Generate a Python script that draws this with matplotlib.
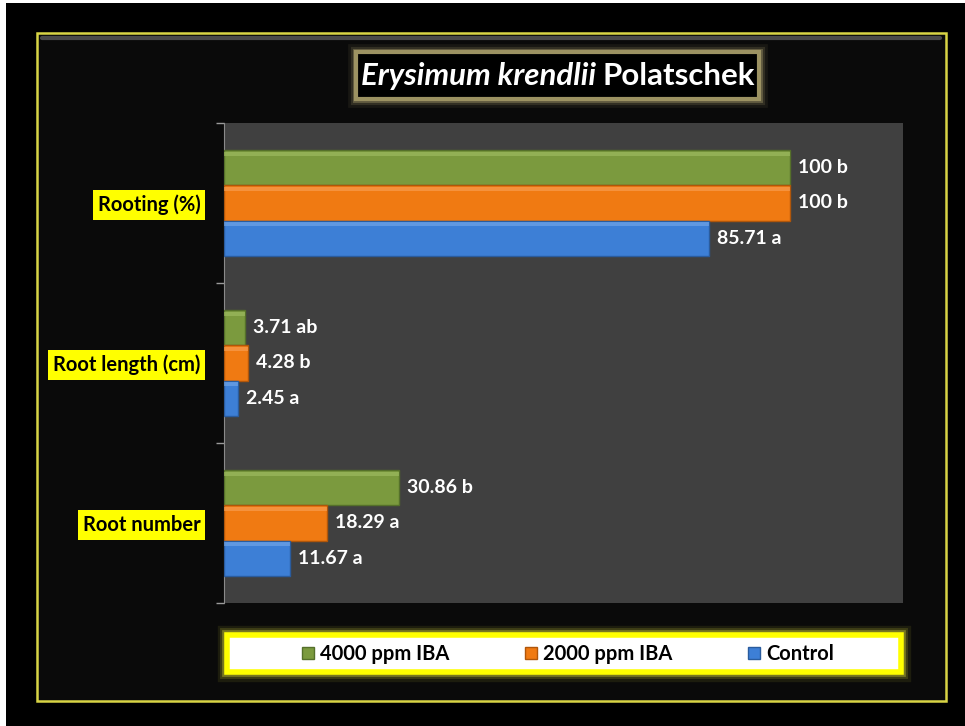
import numpy as np
import matplotlib.pyplot as plt
from matplotlib.patches import Rectangle

plt.rcParams['font.family'] = ['Lato', 'DejaVu Sans']

# categories, bottom to top
categories = ['Root number', 'Root length (cm)', 'Rooting (%)']
series = ['4000 ppm IBA', '2000 ppm IBA', 'Control']
iba4000 = [30.86, 3.71, 100]
iba2000 = [18.29, 4.28, 100]
control = [11.67, 2.45, 85.71]
letters4000 = ['b', 'ab', 'b']
letters2000 = ['a', 'b', 'b']
lettersControl = ['a', 'a', 'a']

colors = ['#7B9A3E', '#F07A12', '#3D7FD6']
edges = ['#55702A', '#B0560A', '#2A5C9E']
lights = ['#A3C065', '#F9A35A', '#78AAEA']

W, H = 965, 726
fig = plt.figure(figsize=(W / 100, H / 100), dpi=100, facecolor='black')

def px(x0, y0, x1, y1):
    # figure fraction box from pixel corners (top-left origin)
    return [x0 / W, 1 - y1 / H, (x1 - x0) / W, (y1 - y0) / H]

# background frame
bg = fig.add_axes([0, 0, 1, 1])
bg.set_xlim(0, W)
bg.set_ylim(H, 0)
bg.axis('off')
bg.add_patch(Rectangle((0, 0), W, H, facecolor='white', zorder=0))
bg.add_patch(Rectangle((6, 3), W - 6, H - 3, facecolor='black', zorder=1))
bg.add_patch(Rectangle((37, 33), 909, 668, facecolor='#0a0a0a', edgecolor='#D8D445', lw=1.8, zorder=2))
bg.plot([42, 940], [37.5, 37.5], color='#4a4a4a', lw=3, solid_capstyle='round', zorder=3)

# title box with soft glow
for lw, a in [(12, 0.08), (8, 0.15), (5, 0.3)]:
    bg.add_patch(Rectangle((356, 52), 403, 47, facecolor='none', edgecolor='#C8BC80', lw=lw, alpha=a, zorder=3))
bg.add_patch(Rectangle((356, 52), 403, 47, facecolor='black', edgecolor='#9C9262', lw=3, zorder=4))
t1 = bg.text(361, 76, 'Erysimum krendlii ', color='white', fontsize=22.5, fontweight='bold',
             fontstyle='italic', va='center', ha='left', zorder=5)
bg.annotate('Polatschek', xycoords=t1, xy=(1, 0.5), va='center', ha='left',
            color='white', fontsize=22.5, fontweight='bold', zorder=5)

# legend box with yellow glow
for lw, a in [(14, 0.08), (10, 0.15), (7, 0.3)]:
    bg.add_patch(Rectangle((227, 635), 674, 37, facecolor='none', edgecolor='#FFFF40', lw=lw, alpha=a, zorder=3))
bg.add_patch(Rectangle((227, 635), 674, 37, facecolor='white', edgecolor='#FFFF00', lw=4, zorder=4))

# main chart
ax = fig.add_axes(px(224, 123, 903, 603))
ax.set_facecolor('#404040')
y = np.arange(len(categories))
h = 0.219
offsets = [h, 0, -h]
data = [iba4000, iba2000, control]
letters = [letters4000, letters2000, lettersControl]
handles = []
for vals, lets, off, c, ec, lc, name in zip(data, letters, offsets, colors, edges, lights, series):
    b = ax.barh(y + off, vals, height=h, color=c, edgecolor=ec, lw=1, label=name, zorder=3)
    ax.barh(y + off + h * 0.40, vals, height=h * 0.10, color=lc, lw=0, alpha=0.6, zorder=4)
    handles.append(b)
    for yi, v, l in zip(y + off, vals, lets):
        ax.text(v + 1.4, yi, f'{v:g} {l}', color='white', fontsize=14, fontweight='bold',
                va='center', ha='left', zorder=5)

ax.set_xlim(0, 120)
ax.set_ylim(-0.5, 2.5)
ax.set_xticks([])
ax.set_yticks(y)
ax.set_yticklabels(categories)
ax.set_yticks([-0.5, 0.5, 1.5, 2.5], minor=True)
ax.tick_params(axis='y', which='major', length=0, pad=17)
ax.tick_params(axis='y', which='minor', length=6, color='#9a9a9a', width=1, direction='out')
for lab in ax.get_yticklabels():
    lab.set_fontsize(14.5)
    lab.set_fontweight('bold')
    lab.set_color('black')
    lab.set_bbox(dict(facecolor='#FFFF00', edgecolor='none', pad=3.5))
for s in ['top', 'right', 'bottom']:
    ax.spines[s].set_visible(False)
ax.spines['left'].set_color('#8a8a8a')

leg = fig.legend(handles=handles, labels=series, loc='center', bbox_to_anchor=(568 / W, 1 - 654 / H),
                 ncol=3, frameon=False, fontsize=14.5, handlelength=0.6, handleheight=0.6,
                 handletextpad=0.3, columnspacing=3.75)
for t in leg.get_texts():
    t.set_fontweight('bold')
    t.set_color('black')

fig.savefig('out.png', dpi=100, facecolor=fig.get_facecolor())
